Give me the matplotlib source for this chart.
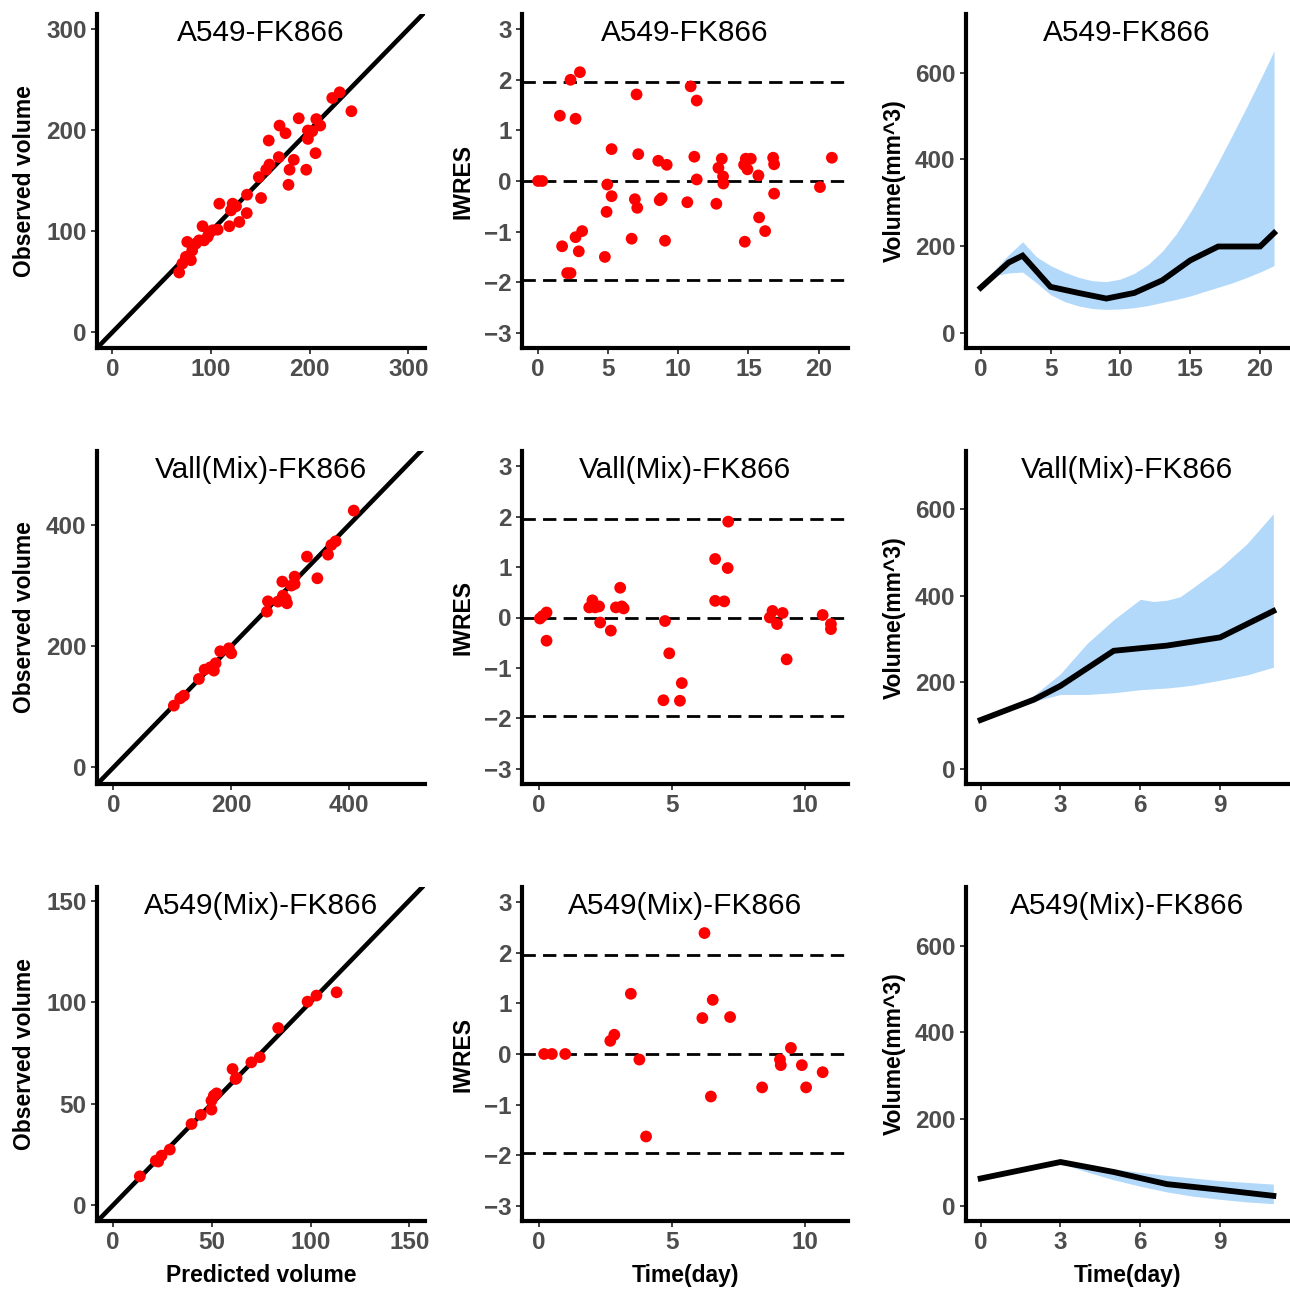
import matplotlib
matplotlib.use("Agg")
import matplotlib.pyplot as plt
import numpy as np

plt.rcParams['font.family'] = ['Liberation Sans', 'DejaVu Sans']
plt.rcParams['axes.unicode_minus'] = True

titles = ["A549-FK866", "Vall(Mix)-FK866", "A549(Mix)-FK866"]

# ---------- Observed vs predicted ----------
a549_pred = [67.8, 71, 74.6, 76, 79.7, 81, 84.7, 88, 91.5, 93, 96.6, 98, 101.7, 106.8,
             108.5, 118.6, 120.3, 122, 125.4, 128.8, 136.3, 136.6, 150.8, 148.5, 156,
             159.3, 158.6, 168.8, 169.5, 175.6, 178.6, 179.7, 184, 189, 196.6, 198.3,
             198.3, 202.7, 206, 206.8, 210.8, 223, 230.5, 242.4]
a549_obs = [59.2, 68, 74.7, 89.5, 71.4, 81, 87.8, 91, 105, 91, 94.4, 97.7, 101, 101.6,
            127.3, 105, 120.7, 127.3, 124.7, 109.2, 118, 136.2, 132.9, 153.6, 160.9,
            166, 189.8, 173.4, 204.6, 197, 146, 160.9, 170.7, 211.8, 160.9, 191.4,
            199.7, 199, 177.3, 211, 204.6, 231.9, 237.5, 218.8]

vall_pred = [102.5, 113.3, 119.5, 145, 154.7, 164.3, 170.5, 173.4, 181.3, 196, 200,
             260.6, 262.3, 279.3, 286.7, 287.8, 292.4, 294.6, 302, 307.6, 307.6, 328.6,
             346.2, 364.3, 370, 377.3, 408]
vall_obs = [101.8, 113.9, 118.3, 145.8, 161.2, 165, 159.6, 171.7, 191.5, 196.4, 188.2,
            256.9, 274, 273.5, 306.5, 283.4, 277.8, 270.7, 299.9, 314.7, 302.6, 347.7,
            312, 351, 367, 373, 423.7]

mix_pred = [13.5, 21.6, 22.8, 24.5, 28.7, 39.7, 44.4, 49.8, 49.8, 51, 52.4, 60.5, 62,
            62.5, 70, 74.3, 83.6, 98.5, 103, 113.2]
mix_obs = [14.1, 21.8, 21.4, 24.3, 27.3, 39.9, 44.4, 47, 51.4, 53.9, 55, 67, 62.1,
           62.6, 70.3, 72.8, 87.2, 100.2, 103.2, 104.8]

# ---------- IWRES vs time ----------
a549_t = [0, 0.29, 1.55, 1.71, 2.07, 2.31, 2.31, 2.67, 2.67, 2.9, 2.98, 3.14, 4.76, 4.88,
          4.93, 5.24, 5.24, 6.67, 6.9, 7.02, 7.07, 7.14, 8.57, 8.67, 8.81, 9.05, 9.17,
          10.64, 10.88, 11.14, 11.31, 11.31, 12.71, 12.86, 13.1, 13.19, 13.21, 14.69,
          14.74, 14.81, 14.93, 15.17, 15.71, 15.76, 16.19, 16.76, 16.83, 16.83, 20.1, 20.95]
a549_iwres = [0, 0, 1.29, -1.29, -1.82, -1.82, 2.0, 1.23, -1.11, -1.39, 2.15, -0.99, -1.5,
              -0.61, -0.07, 0.63, -0.3, -1.14, -0.36, 1.71, -0.53, 0.53, 0.4, -0.38, -0.34,
              -1.18, 0.32, -0.42, 1.87, 0.48, 1.59, 0.03, -0.45, 0.26, 0.44, 0.09, -0.05,
              0.32, -1.2, 0.44, 0.23, 0.44, 0.11, -0.72, -0.99, 0.46, 0.33, -0.25, -0.12, 0.46]

vall_t = [0.05, 0.15, 0.3, 0.3, 1.9, 2.02, 2.12, 2.27, 2.31, 2.71, 2.9, 3.06, 3.12, 3.19,
          4.68, 4.74, 4.9, 5.3, 5.37, 6.62, 6.62, 6.96, 7.09, 7.11, 8.67, 8.77, 8.94, 9.15,
          9.3, 10.65, 10.96, 10.96]
vall_iwres = [-0.02, 0.03, 0.1, -0.46, 0.2, 0.34, 0.2, 0.22, -0.1, -0.26, 0.2, 0.59, 0.22,
              0.18, -1.64, -0.07, -0.71, -1.65, -1.3, 1.16, 0.33, 0.32, 0.98, 1.9, 0, 0.13,
              -0.13, 0.09, -0.83, 0.05, -0.13, -0.23]

mix_t = [0.21, 0.5, 1.0, 2.69, 2.84, 3.46, 3.78, 4.03, 6.14, 6.22, 6.46, 6.53, 7.18, 8.38,
         9.05, 9.08, 9.46, 9.87, 10.03, 10.65]
mix_iwres = [0, 0, 0, 0.26, 0.38, 1.19, -0.11, -1.63, 0.71, 2.39, -0.84, 1.07, 0.73, -0.66,
             -0.11, -0.22, 0.12, -0.22, -0.66, -0.36]

# ---------- Predictive check (median + band) ----------
a549_med_t = [0, 2, 3, 5, 7, 9, 11, 13, 15, 17, 20, 21]
a549_med = [104, 162, 178, 106, 92, 79, 92, 121, 167, 199, 199, 230]
a549_band_t = [0, 1, 2, 3, 4, 5, 6, 7, 8, 9, 10, 11, 12, 13, 14, 15, 16, 17, 18, 19, 20, 21]
a549_hi = [112, 145, 180, 210, 175, 155, 140, 128, 120, 118, 124, 137, 158, 188, 228, 278,
           333, 393, 455, 518, 583, 650]
a549_lo = [105, 132, 138, 140, 115, 88, 72, 62, 56, 54, 55, 58, 63, 70, 77, 85, 95, 105,
           115, 127, 140, 155]

vall_med_t = [0, 2, 3, 5, 7, 9, 11]
vall_med = [113, 160, 192, 273, 285, 304, 365]
vall_band_t = [0, 1, 2, 3, 4, 5, 6, 6.5, 7, 7.5, 8, 9, 10, 11]
vall_hi = [113, 140, 170, 220, 290, 345, 392, 387, 390, 398, 420, 465, 520, 590]
vall_lo = [113, 138, 156, 172, 172, 176, 183, 185, 187, 190, 194, 205, 217, 235]

mix_med_t = [0, 3, 5, 7, 9, 11]
mix_med = [63, 101, 78, 50, 37, 23]
mix_band_t = [0, 3, 4, 5, 6, 7, 8, 9, 10, 11]
mix_hi = [63, 101, 93, 85, 77, 70, 64, 58, 54, 50]
mix_lo = [63, 98, 78, 60, 45, 32, 22, 15, 9, 5]

# ---------- figure ----------
W = H = 1290
fig = plt.figure(figsize=(12.9, 12.9), dpi=100)

col_l = [97, 522, 966]
col_r = [425, 848, 1288]
row_t = [14, 451, 887]
row_b = [348, 784, 1221]

TICK_COL = '#4D4D4D'
RED = '#FF0000'
BAND = '#B3D9FA'
TICK_FS = 17.5
LAB_FS = 16.5


def make_ax(r, c):
    x0, x1 = col_l[c], col_r[c]
    y0, y1 = row_t[r], row_b[r]
    ax = fig.add_axes([x0 / W, 1 - y1 / H, (x1 - x0) / W, (y1 - y0) / H])
    for s in ['top', 'right']:
        ax.spines[s].set_visible(False)
    for s in ['left', 'bottom']:
        ax.spines[s].set_linewidth(3.0)
        ax.spines[s].set_color('black')
        ax.spines[s].set_capstyle('projecting')
    ax.tick_params(axis='both', length=4, width=1.3, color='#333333', pad=3.5,
                   labelsize=TICK_FS, labelcolor=TICK_COL)
    ax.text(0.5, 0.944, titles[r], transform=ax.transAxes, ha='center', va='center',
            fontsize=21.5, color='black')
    return ax


def bold_ticks(ax):
    for lab in ax.get_xticklabels() + ax.get_yticklabels():
        lab.set_fontweight('bold')
        lab.set_color(TICK_COL)


obs_sets = [(a549_pred, a549_obs), (vall_pred, vall_obs), (mix_pred, mix_obs)]
obs_lims = [(-15.5, 317, -15.5, 315), (-28, 529, -27.5, 522), (-8.2, 158, -7.9, 156.7)]
obs_ticks = [[0, 100, 200, 300], [0, 200, 400], [0, 50, 100, 150]]

res_sets = [(a549_t, a549_iwres), (vall_t, vall_iwres), (mix_t, mix_iwres)]
res_xlims = [(-1.15, 22.1), (-0.62, 11.6), (-0.62, 11.6)]
res_xticks = [[0, 5, 10, 15, 20], [0, 5, 10], [0, 5, 10]]

vpc_sets = [(a549_med_t, a549_med, a549_band_t, a549_hi, a549_lo),
            (vall_med_t, vall_med, vall_band_t, vall_hi, vall_lo),
            (mix_med_t, mix_med, mix_band_t, mix_hi, mix_lo)]
vpc_xlims = [(-1.05, 22.0), (-0.55, 11.55), (-0.55, 11.55)]
vpc_xticks = [[0, 5, 10, 15, 20], [0, 3, 6, 9], [0, 3, 6, 9]]

PT_S = 72

for r in range(3):
    # observed vs predicted
    ax = make_ax(r, 0)
    px, oy = obs_sets[r]
    ax.axline((0, 0), slope=1, color='black', lw=3.3, zorder=2)
    ax.scatter(px, oy, s=PT_S, color=RED, edgecolors='none', zorder=3)
    xl0, xl1, yl0, yl1 = obs_lims[r]
    ax.set_xlim(xl0, xl1)
    ax.set_ylim(yl0, yl1)
    ax.set_xticks(obs_ticks[r])
    ax.set_yticks(obs_ticks[r])
    ax.set_ylabel('Observed volume', fontsize=LAB_FS, fontweight='bold', labelpad=7)
    if r == 2:
        ax.set_xlabel('Predicted volume', fontsize=LAB_FS, fontweight='bold', labelpad=7)
    bold_ticks(ax)

    # IWRES
    ax = make_ax(r, 1)
    t, res = res_sets[r]
    for yv in [-1.96, 0, 1.96]:
        ax.axhline(yv, color='black', lw=2.0, linestyle=(0, (4.8, 2.6)), zorder=1)
    ax.scatter(t, res, s=PT_S, color=RED, edgecolors='none', zorder=3)
    ax.set_xlim(*res_xlims[r])
    ax.set_ylim(-3.3, 3.3)
    ax.set_xticks(res_xticks[r])
    ax.set_yticks([-3, -2, -1, 0, 1, 2, 3])
    ax.set_ylabel('IWRES', fontsize=LAB_FS, fontweight='bold', labelpad=7)
    if r == 2:
        ax.set_xlabel('Time(day)', fontsize=LAB_FS, fontweight='bold', labelpad=7)
    bold_ticks(ax)

    # VPC
    ax = make_ax(r, 2)
    mt, mv, bt, hi, lo = vpc_sets[r]
    ax.fill_between(bt, lo, hi, color=BAND, linewidth=0, zorder=1)
    ax.plot(mt, mv, color='black', lw=4.2, solid_joinstyle='miter', zorder=2)
    ax.set_xlim(*vpc_xlims[r])
    ax.set_ylim(-35, 735)
    ax.set_xticks(vpc_xticks[r])
    ax.set_yticks([0, 200, 400, 600])
    ax.set_ylabel('Volume(mm^3)', fontsize=LAB_FS, fontweight='bold', labelpad=7)
    if r == 2:
        ax.set_xlabel('Time(day)', fontsize=LAB_FS, fontweight='bold', labelpad=7)
    bold_ticks(ax)

fig.savefig('out.png', dpi=100)
